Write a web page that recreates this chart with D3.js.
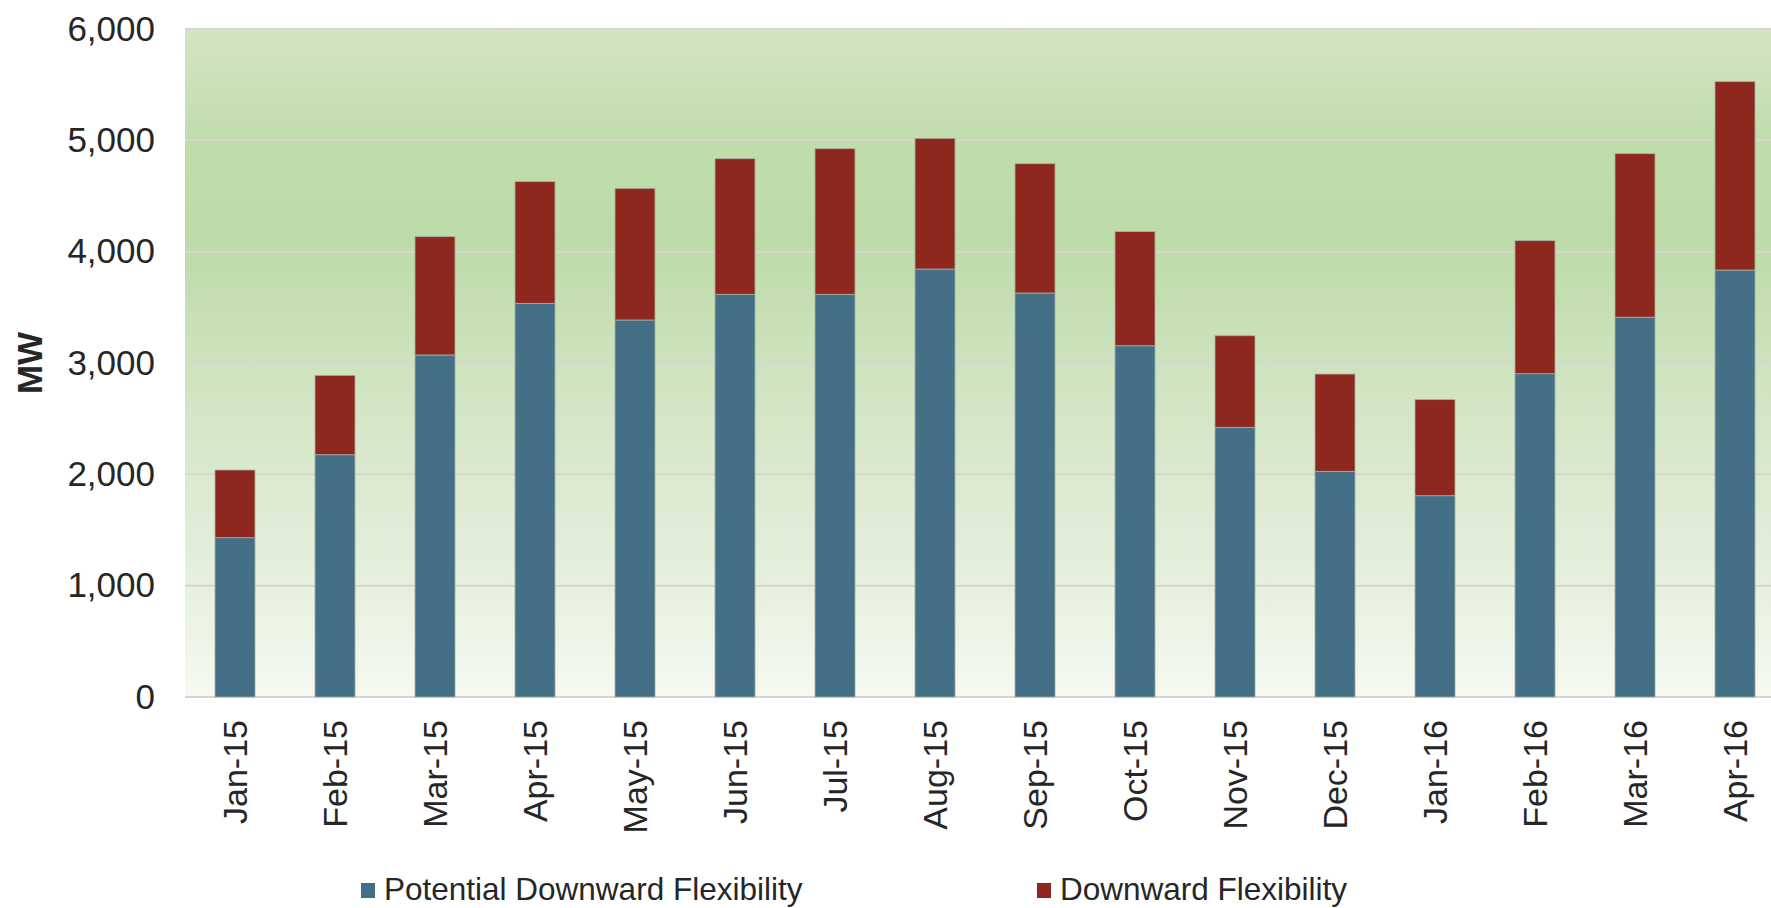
<!DOCTYPE html>
<html>
<head>
<meta charset="utf-8">
<script src="https://cdn.jsdelivr.net/npm/d3@7"></script>
<style>
    body { margin: 0; background: #fff; }
    text { font-family: "Liberation Sans", Arial, sans-serif; fill: #262626; }
</style>
</head>
<body>
<svg id="chart" width="1771" height="908"></svg>
<script>
// month labels along the x axis
const months = ['Jan-15', 'Feb-15', 'Mar-15', 'Apr-15', 'May-15', 'Jun-15', 'Jul-15', 'Aug-15',
    'Sep-15', 'Oct-15', 'Nov-15', 'Dec-15', 'Jan-16', 'Feb-16', 'Mar-16', 'Apr-16'];

// MW
const potentialDownward = [1431, 2176, 3072, 3536, 3386, 3617, 3617, 3844,
    3629, 3155, 2422, 2027, 1808, 2904, 3411, 3835];
const downward = [608, 713, 1063, 1093, 1183, 1218, 1308, 1174,
    1161, 1025, 823, 874, 863, 1195, 1469, 1692];

const yTicks = [0, 1000, 2000, 3000, 4000, 5000, 6000];
const seriesNames = ['Potential Downward Flexibility', 'Downward Flexibility'];
const seriesColors = ['#436f87', '#8e281e'];

const svg = d3.select('#chart');

const plotLeft = 185;
const plotTop = 29;
const plotBottom = 697;

const x = d3.scaleBand()
    .domain(months)
    .range([plotLeft, plotLeft + 1600])
    .paddingInner(0.6)
    .paddingOuter(0.3);

const y = d3.scaleLinear()
    .domain([0, 6000])
    .range([plotBottom, plotTop]);

// green background gradient of the plot area
const grad = svg.append('defs').append('linearGradient')
    .attr('id', 'bg')
    .attr('x1', 0).attr('y1', 0).attr('x2', 0).attr('y2', 1);
[['0%', '#d3e5c4'], ['18%', '#bfdcab'], ['32%', '#bddba8'], ['60%', '#d6e7c9'],
    ['85%', '#e8f1e0'], ['100%', '#f6faf3']].forEach(s => {
    grad.append('stop').attr('offset', s[0]).attr('stop-color', s[1]);
});

svg.append('rect')
    .attr('x', plotLeft)
    .attr('y', plotTop)
    .attr('width', 1771 - plotLeft)
    .attr('height', plotBottom - plotTop)
    .attr('fill', 'url(#bg)');

// gridlines
svg.append('g')
    .selectAll('line')
    .data(yTicks)
    .join('line')
    .attr('x1', plotLeft)
    .attr('x2', 1771)
    .attr('y1', d => y(d))
    .attr('y2', d => y(d))
    .attr('stroke', '#d6d6d0')
    .attr('stroke-width', 2);

// stacked bars
const rows = months.map((m, i) => ({ month: m, a: potentialDownward[i], b: downward[i] }));
const stacked = d3.stack().keys(['a', 'b'])(rows);

svg.append('g')
    .selectAll('g')
    .data(stacked)
    .join('g')
    .attr('fill', (d, i) => seriesColors[i])
    .selectAll('rect')
    .data(d => d)
    .join('rect')
    .attr('x', d => x(d.data.month))
    .attr('width', x.bandwidth())
    .attr('y', d => y(d[1]))
    .attr('height', d => y(d[0]) - y(d[1]))
    .attr('stroke', '#a8b0a0')
    .attr('stroke-width', 0.8);

// y axis labels
const yAxis = d3.axisLeft(y)
    .tickValues(yTicks)
    .tickFormat(d3.format(','))
    .tickSize(0)
    .tickPadding(0);

svg.append('g')
    .attr('transform', 'translate(155,0)')
    .call(yAxis)
    .call(g => g.select('.domain').remove())
    .selectAll('text')
    .attr('font-size', 35)
    .attr('font-family', '"Liberation Sans", Arial, sans-serif')
    .attr('fill', '#262626');

// x axis labels, rotated
const xAxis = d3.axisBottom(x).tickSize(0).tickPadding(0);
svg.append('g')
    .attr('transform', `translate(0,${plotBottom})`)
    .call(xAxis)
    .call(g => g.select('.domain').remove())
    .selectAll('text')
    .attr('font-size', 34)
    .attr('font-family', '"Liberation Sans", Arial, sans-serif')
    .attr('fill', '#262626')
    .attr('text-anchor', 'end')
    .attr('dy', '0.35em')
    .attr('transform', 'translate(0,23) rotate(-90)');

// axis title
svg.append('text')
    .attr('transform', `translate(30,${(plotTop + plotBottom) / 2}) rotate(-90)`)
    .attr('text-anchor', 'middle')
    .attr('dy', '0.35em')
    .attr('font-size', 35)
    .attr('font-weight', 'bold')
    .attr('fill', '#1a1a1a')
    .text('MW');

// legend
const legendX = [361, 1037];
const legend = svg.append('g')
    .selectAll('g')
    .data(seriesNames)
    .join('g')
    .attr('transform', (d, i) => `translate(${legendX[i]},883)`);

legend.append('rect')
    .attr('width', 14)
    .attr('height', 15)
    .attr('fill', (d, i) => seriesColors[i]);

legend.append('text')
    .attr('x', 23)
    .attr('y', 17)
    .attr('font-size', 31.5)
    .text(d => d);
</script>
</body>
</html>
